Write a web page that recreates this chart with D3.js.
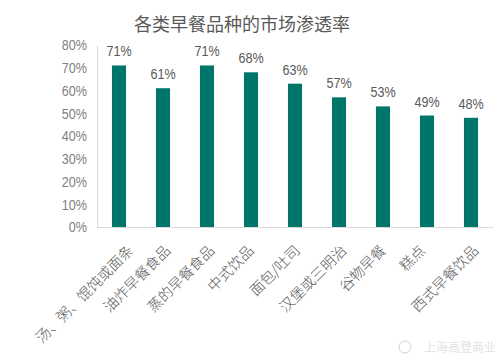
<!DOCTYPE html>
<html>
<head>
<meta charset="utf-8">
<script src="https://cdn.jsdelivr.net/npm/d3@7"></script>
<style>
  body { margin: 0; background: #fff; }
  svg { display: block; }
</style>
</head>
<body>
<svg id="chart" width="502" height="360"></svg>
<script>
// chart data
const categories = ["汤、粥、馄饨或面条", "油炸早餐食品", "蒸的早餐食品", "中式饮品", "面包/吐司", "汉堡或三明治", "谷物早餐", "糕点", "西式早餐饮品"];
const values = [0.71, 0.61, 0.71, 0.68, 0.63, 0.57, 0.53, 0.49, 0.48];
const yTicks = [0, 0.1, 0.2, 0.3, 0.4, 0.5, 0.6, 0.7, 0.8];
const title = "各类早餐品种的市场渗透率";

const svg = d3.select("#chart");
const margin = { left: 97, right: 9, top: 45, bottom: 133 };
const width = 502, height = 360;
const cjk = '"Noto Sans CJK SC", sans-serif';
const latin = '"Liberation Sans", sans-serif';
const squeeze = 0.84; // no narrow font here, so squeeze the numbers a bit
const pct = d3.format(".0%");

const x = d3.scaleBand()
  .domain(categories)
  .range([margin.left, width - margin.right])
  .paddingInner(0.68)
  .paddingOuter(0.34);

const y = d3.scaleLinear()
  .domain([0, 0.8])
  .range([height - margin.bottom, margin.top]);

// title
svg.append("text")
  .attr("x", 242)
  .attr("y", 31)
  .attr("text-anchor", "middle")
  .style("font-family", cjk)
  .style("font-size", "18px")
  .style("fill", "#595959")
  .text(title);

// y axis (labels + light line)
const yAxis = svg.append("g")
  .attr("transform", "translate(" + margin.left + ",0)")
  .call(d3.axisLeft(y).tickValues(yTicks).tickFormat(pct).tickSize(0).tickPadding(10));
yAxis.select(".domain").attr("stroke", "#d9d9d9");
yAxis.selectAll("text")
  .attr("x", -10 / squeeze)
  .attr("transform", "scale(" + squeeze + ",1)")
  .style("font-family", latin)
  .style("font-size", "15px")
  .style("fill", "#7f7f7f");

// x axis
const xAxis = svg.append("g")
  .attr("transform", "translate(0," + y(0) + ")")
  .call(d3.axisBottom(x).tickSize(0).tickSizeOuter(0).tickFormat(""));
xAxis.select(".domain").attr("stroke", "#d9d9d9");

// bars
svg.append("g")
  .selectAll("rect")
  .data(values)
  .join("rect")
  .attr("x", (d, i) => x(categories[i]))
  .attr("y", d => y(d))
  .attr("width", x.bandwidth())
  .attr("height", d => y(0) - y(d))
  .attr("fill", "#00756a");

// value labels
svg.append("g")
  .selectAll("text")
  .data(values)
  .join("text")
  .attr("transform", (d, i) => "translate(" + (x(categories[i]) + x.bandwidth() / 2) + "," + (y(d) - 9) + ") scale(" + squeeze + ",1)")
  .attr("text-anchor", "middle")
  .style("font-family", latin)
  .style("font-size", "15px")
  .style("fill", "#595959")
  .text(d => pct(d));

// rotated category labels, longer labels sit a bit further right (as excel does)
svg.append("g")
  .selectAll("text")
  .data(categories)
  .join("text")
  .attr("transform", d => {
    const shift = -9 + 2.3 * d.length;
    return "translate(" + (x(d) + x.bandwidth() / 2 + shift) + "," + (y(0) + 21) + ") rotate(-45)";
  })
  .attr("text-anchor", "end")
  .attr("dy", "0.35em")
  .style("font-family", cjk)
  .style("font-weight", 300)
  .style("font-size", "14.5px")
  .style("fill", "#595959")
  .text(d => d);

// watermark
svg.append("text")
  .attr("x", 496)
  .attr("y", 352)
  .attr("text-anchor", "end")
  .style("font-family", cjk)
  .style("font-size", "12px")
  .style("fill", "#e3e3e3")
  .text("上海高登商业");
svg.append("circle")
  .attr("cx", 405)
  .attr("cy", 347)
  .attr("r", 6)
  .attr("fill", "none")
  .attr("stroke", "#d0d0d0");
</script>
</body>
</html>
